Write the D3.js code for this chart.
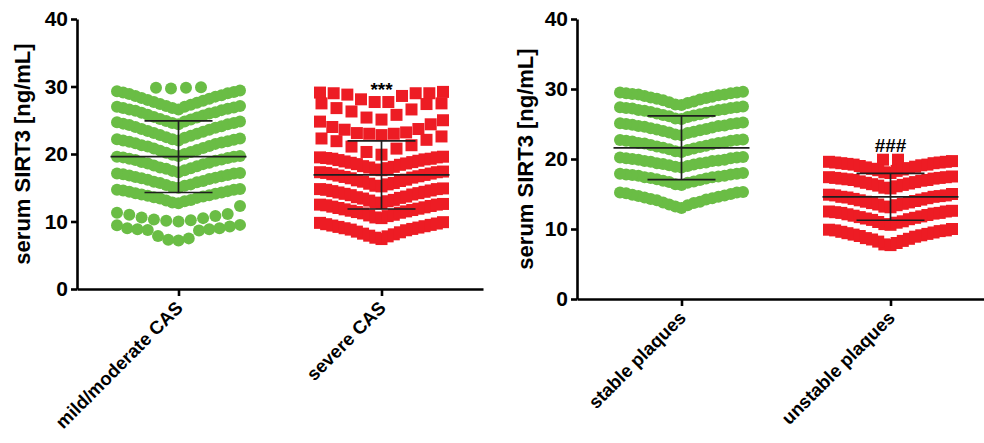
<!DOCTYPE html>
<html>
<head>
<meta charset="utf-8">
<script src="https://cdn.jsdelivr.net/npm/d3@7"></script>
<style>
  body { margin: 0; background: #fff; }
  svg { display: block; font-family: "Liberation Sans", Arial, sans-serif; }
</style>
</head>
<body>
<script>
// categories
const leftCats = ["mild/moderate CAS", "severe CAS"];
const rightCats = ["stable plaques", "unstable plaques"];
const yTicks = [0, 10, 20, 30, 40];
const yLabel = "serum SIRT3 [ng/mL]";

// serum SIRT3 values, grouped the way they are stacked in the picture (top to bottom)
const mildRows = [
  [29.7, 29.8, 29.8, 29.9],
  [26.6, 26.8, 27.0, 27.1, 27.3, 27.4, 27.6, 27.7, 27.9, 28.0, 28.2, 28.3, 28.5, 28.6, 28.7, 28.9, 29.0, 29.1, 29.2, 29.3, 29.4],
  [24.4, 24.6, 24.8, 24.9, 25.1, 25.2, 25.4, 25.5, 25.7, 25.8, 26.0, 26.1, 26.2, 26.4, 26.5, 26.6, 26.7, 26.8, 26.9, 27.0, 27.1],
  [22.0, 22.2, 22.4, 22.5, 22.7, 22.8, 23.0, 23.1, 23.3, 23.4, 23.6, 23.7, 23.9, 24.0, 24.1, 24.3, 24.4, 24.5, 24.6, 24.7, 24.8],
  [19.7, 19.9, 20.0, 20.2, 20.3, 20.5, 20.6, 20.8, 20.9, 21.1, 21.2, 21.3, 21.5, 21.6, 21.7, 21.8, 21.9, 22.0, 22.1, 22.2, 22.3],
  [17.3, 17.5, 17.6, 17.8, 17.9, 18.0, 18.2, 18.3, 18.5, 18.6, 18.7, 18.8, 19.0, 19.1, 19.2, 19.3, 19.4, 19.5, 19.6, 19.6, 19.7],
  [15.0, 15.1, 15.3, 15.4, 15.5, 15.7, 15.8, 15.9, 16.0, 16.2, 16.3, 16.4, 16.5, 16.6, 16.7, 16.8, 16.9, 17.0, 17.1, 17.1, 17.2],
  [12.7, 12.8, 13.0, 13.1, 13.2, 13.4, 13.5, 13.6, 13.7, 13.8, 13.9, 14.0, 14.1, 14.2, 14.3, 14.4, 14.5, 14.6, 14.7, 14.7, 14.8],
  [10.0, 10.1, 10.2, 10.3, 10.5, 10.6, 10.8, 11.0, 11.1, 11.3, 12.3],
  [7.2, 7.3, 7.5, 7.85, 8.65, 8.75, 8.85, 8.85, 9.0, 9.0, 9.25, 9.45, 9.5]
];
const severeRows = [
  [27.7, 27.7, 28.1, 28.6, 28.8, 29.0, 29.0, 29.0, 29.1, 29.2],
  [25.1, 25.4, 25.8, 26.3, 26.6, 26.8, 27.4, 27.5, 27.5],
  [22.8, 23.0, 23.0, 23.1, 23.2, 23.6, 23.7, 24.0, 24.4, 24.8, 25.0],
  [19.9, 20.3, 20.8, 21.1, 21.3, 21.9, 22.1, 22.3, 22.6],
  [17.6, 17.7, 17.9, 18.0, 18.1, 18.2, 18.4, 18.5, 18.6, 18.7, 18.8, 18.9, 19.0, 19.1, 19.2, 19.3, 19.3, 19.4, 19.5, 19.5, 19.6],
  [15.2, 15.3, 15.5, 15.6, 15.7, 15.9, 16.0, 16.1, 16.2, 16.4, 16.5, 16.6, 16.7, 16.8, 16.9, 17.0, 17.1, 17.2, 17.3, 17.3, 17.4],
  [12.7, 12.8, 13.0, 13.1, 13.2, 13.4, 13.5, 13.6, 13.7, 13.9, 14.0, 14.1, 14.2, 14.3, 14.4, 14.5, 14.6, 14.7, 14.8, 14.8, 14.9],
  [10.5, 10.6, 10.8, 10.9, 11.0, 11.2, 11.3, 11.4, 11.5, 11.6, 11.7, 11.8, 11.9, 12.0, 12.1, 12.2, 12.3, 12.4, 12.5, 12.5, 12.6],
  [7.4, 7.6, 7.8, 7.9, 8.1, 8.2, 8.4, 8.5, 8.7, 8.8, 8.9, 9.0, 9.1, 9.2, 9.3, 9.4, 9.5, 9.6, 9.7, 9.8, 9.9]
];
const stableRows = [
  [27.7, 27.8, 28.0, 28.1, 28.2, 28.4, 28.5, 28.6, 28.7, 28.8, 28.9, 29.0, 29.1, 29.2, 29.2, 29.3, 29.4, 29.4, 29.5, 29.5, 29.6],
  [25.7, 25.8, 26.0, 26.1, 26.2, 26.3, 26.4, 26.5, 26.6, 26.7, 26.8, 26.9, 27.0, 27.0, 27.1, 27.2, 27.3, 27.3, 27.4, 27.4, 27.5],
  [23.4, 23.5, 23.7, 23.8, 23.9, 24.0, 24.1, 24.2, 24.3, 24.4, 24.5, 24.6, 24.7, 24.7, 24.8, 24.9, 25.0, 25.0, 25.1, 25.1, 25.2],
  [21.0, 21.1, 21.3, 21.4, 21.5, 21.6, 21.7, 21.8, 21.9, 22.0, 22.1, 22.2, 22.3, 22.3, 22.4, 22.5, 22.6, 22.6, 22.7, 22.7, 22.8],
  [18.8, 18.9, 19.0, 19.1, 19.2, 19.3, 19.4, 19.4, 19.5, 19.6, 19.7, 19.7, 19.8, 19.9, 19.9, 20.0, 20.1, 20.1, 20.2, 20.2, 20.3],
  [16.3, 16.4, 16.6, 16.7, 16.8, 16.9, 17.0, 17.1, 17.2, 17.3, 17.4, 17.4, 17.5, 17.6, 17.6, 17.7, 17.8, 17.8, 17.9, 17.9, 18.0],
  [13.0, 13.2, 13.4, 13.5, 13.7, 13.8, 13.9, 14.1, 14.2, 14.3, 14.4, 14.5, 14.6, 14.7, 14.8, 14.9, 15.0, 15.1, 15.2, 15.2, 15.3]
];
const unstableRows = [
  [19.9, 19.9],
  [18.0, 18.1, 18.3, 18.4, 18.5, 18.6, 18.7, 18.8, 18.9, 19.0, 19.1, 19.2, 19.2, 19.3, 19.4, 19.4, 19.5, 19.5, 19.6, 19.6, 19.7],
  [15.8, 15.9, 16.1, 16.2, 16.3, 16.4, 16.5, 16.6, 16.7, 16.8, 16.9, 17.0, 17.0, 17.1, 17.2, 17.2, 17.3, 17.3, 17.4, 17.4, 17.5],
  [13.1, 13.2, 13.4, 13.5, 13.6, 13.7, 13.8, 13.9, 14.0, 14.1, 14.2, 14.3, 14.4, 14.5, 14.6, 14.6, 14.7, 14.8, 14.8, 14.9, 15.0],
  [10.6, 10.7, 10.9, 11.0, 11.1, 11.3, 11.4, 11.5, 11.6, 11.7, 11.8, 11.9, 12.0, 12.1, 12.2, 12.3, 12.3, 12.4, 12.5, 12.5, 12.6],
  [7.7, 7.8, 8.0, 8.2, 8.3, 8.5, 8.6, 8.7, 8.9, 9.0, 9.1, 9.2, 9.3, 9.4, 9.5, 9.6, 9.7, 9.8, 9.8, 9.9, 10.0]
];

// mean and SD of each group (as drawn)
const leftMeans = [19.6, 16.9];
const leftSDs = [5.3, 5.05];
const rightMeans = [21.6, 14.6];
const rightSDs = [4.55, 3.35];
const leftMarks = ["", "***"];
const rightMarks = ["", "###"];

const green = "#6abd45", red = "#ed1c24", barColor = "#1e1e1e";

const svg = d3.select("body").append("svg")
  .attr("width", 984)
  .attr("height", 443);

// spread a row of values sideways: lowest in the middle, then left/right alternately
function spreadRow(vals, span, cap) {
  const s = vals.slice().sort(d3.ascending);
  const n = s.length;
  const step = n > 1 ? Math.min(cap, span / (n - 1)) : 0;
  return s.map(function(v, i) {
    let k;
    if (n % 2 === 1) {
      k = i === 0 ? 0 : Math.ceil(i / 2) * (i % 2 ? -1 : 1);
    } else {
      k = (Math.floor(i / 2) + 0.5) * (i % 2 ? 1 : -1);
    }
    return {v: v, dx: k * step};
  });
}

function drawPanel(p) {
  const y = d3.scaleLinear().domain([0, 40]).range([p.bottom, p.top]);
  const x = d3.scalePoint().domain(p.cats).range([p.left, p.right]).padding(0.5);
  const g = svg.append("g");

  p.groups.forEach(function(grp, i) {
    const cx = x(p.cats[i]);
    const pts = grp.rows.flatMap(r => spreadRow(r, 123, 15));
    const dots = g.append("g");
    if (grp.shape === "circle") {
      dots.selectAll("circle").data(pts).join("circle")
        .attr("cx", d => cx + d.dx)
        .attr("cy", d => y(d.v))
        .attr("r", 6)
        .attr("fill", grp.color);
    } else {
      dots.selectAll("rect").data(pts).join("rect")
        .attr("x", d => cx + d.dx - 6)
        .attr("y", d => y(d.v) - 6)
        .attr("width", 12)
        .attr("height", 12)
        .attr("fill", grp.color);
    }

    // mean line and SD bar
    const m = grp.mean, sd = grp.sd;
    const bars = g.append("g").attr("stroke", barColor).attr("stroke-width", 1.7);
    bars.append("line").attr("x1", cx - 68).attr("x2", cx + 68).attr("y1", y(m)).attr("y2", y(m));
    bars.append("line").attr("x1", cx).attr("x2", cx).attr("y1", y(m + sd)).attr("y2", y(m - sd));
    [m + sd, m - sd].forEach(function(v) {
      bars.append("line").attr("x1", cx - 34).attr("x2", cx + 34).attr("y1", y(v)).attr("y2", y(v));
    });

    if (grp.mark) {
      g.append("text")
        .attr("x", cx)
        .attr("y", y(grp.markAt))
        .attr("text-anchor", "middle")
        .attr("font-size", 19)
        .attr("font-weight", "bold")
        .text(grp.mark);
    }
  });

  // y axis
  const ya = g.append("g")
    .attr("transform", `translate(${p.left},0)`)
    .call(d3.axisLeft(y).tickValues(yTicks).tickSize(6).tickSizeOuter(0).tickPadding(3));
  ya.selectAll("path, line").attr("stroke", "#000").attr("stroke-width", 2.6);
  ya.selectAll("text").attr("fill", "#000").attr("font-size", 21).attr("font-weight", "bold")
    .attr("font-family", "Liberation Sans, Arial, sans-serif");

  // x axis with slanted category names
  const xa = g.append("g")
    .attr("transform", `translate(0,${p.bottom})`)
    .call(d3.axisBottom(x).tickSize(7).tickSizeOuter(0));
  xa.selectAll("path, line").attr("stroke", "#000").attr("stroke-width", 2.6);
  xa.selectAll("text")
    .attr("x", 0).attr("y", 0).attr("dy", 0)
    .attr("transform", "translate(5,20) rotate(-45)")
    .style("text-anchor", "end")
    .attr("fill", "#000").attr("font-size", 18.5).attr("font-weight", "bold")
    .attr("font-family", "Liberation Sans, Arial, sans-serif");

  g.append("text")
    .attr("transform", `translate(${p.labelX},${p.labelY}) rotate(-90)`)
    .attr("text-anchor", "middle")
    .attr("dominant-baseline", "central")
    .attr("font-size", 22)
    .attr("font-weight", "bold")
    .text(yLabel);
}

drawPanel({
  cats: leftCats, left: 77, right: 483, top: 19, bottom: 289, labelX: 22, labelY: 154,
  groups: [
    {rows: mildRows, shape: "circle", color: green, mean: leftMeans[0], sd: leftSDs[0], mark: leftMarks[0]},
    {rows: severeRows, shape: "square", color: red, mean: leftMeans[1], sd: leftSDs[1], mark: leftMarks[1], markAt: 28.6}
  ]
});

drawPanel({
  cats: rightCats, left: 577, right: 995, top: 19, bottom: 299, labelX: 525, labelY: 159,
  groups: [
    {rows: stableRows, shape: "circle", color: green, mean: rightMeans[0], sd: rightSDs[0], mark: rightMarks[0]},
    {rows: unstableRows, shape: "square", color: red, mean: rightMeans[1], sd: rightSDs[1], mark: rightMarks[1], markAt: 21.0}
  ]
});
</script>
</body>
</html>
